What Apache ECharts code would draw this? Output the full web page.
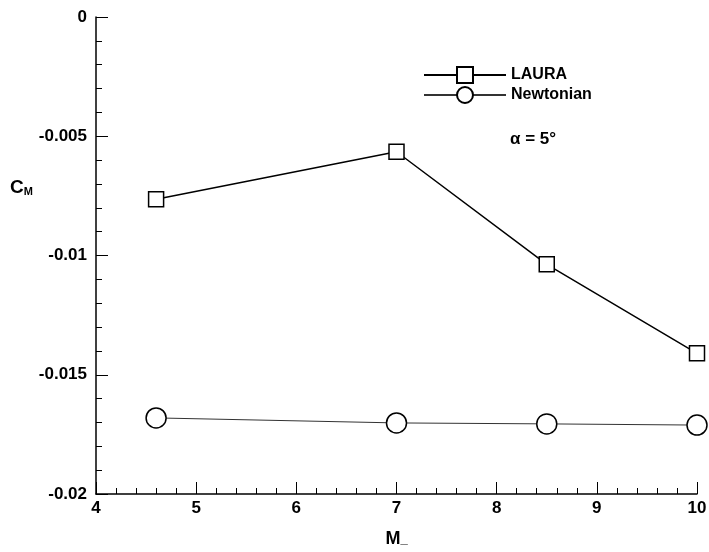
<!DOCTYPE html>
<html>
<head>
    <meta charset="utf-8"/>
    <script src="https://cdn.jsdelivr.net/npm/echarts@6/dist/echarts.min.js"></script>
    <style>
        html, body { margin: 0; padding: 0; background: #fff; }
        #container { width: 709px; height: 552px; }
    </style>
</head>
<body>
<div id="container"></div>
<script type="text/javascript">
    var machNumbers = [4.6, 7, 8.5, 10];
    var lauraCm = [-0.00764, -0.00565, -0.01037, -0.0141];
    var newtonianCm = [-0.01681, -0.01702, -0.01706, -0.01711];
    var seriesNames = ['LAURA', 'Newtonian'];

    function pairs(xs, ys) {
        var out = [];
        for (var i = 0; i < xs.length; i++) {
            out.push([xs[i], ys[i]]);
        }
        return out;
    }

    var font = 'Liberation Sans, Arial, sans-serif';
    var dom = document.getElementById("container");
    var myChart = echarts.init(dom);
    var option = {
        animation: false,
        backgroundColor: '#fff',
        textStyle: { fontFamily: font, color: '#000' },
        grid: { left: 96, right: 12, top: 17, bottom: 58, outerBoundsMode: 'none', containLabel: false },
        legend: {
            orient: 'vertical',
            left: 418,
            top: 61,
            itemWidth: 82,
            itemHeight: 20,
            itemGap: 2,
            textStyle: { fontSize: 16, fontWeight: 'bold', color: '#000', fontFamily: font },
            data: seriesNames
        },
        xAxis: {
            type: 'value',
            min: 4,
            max: 10,
            interval: 1,
            name: 'M{s|_}',
            nameLocation: 'middle',
            nameGap: 36,
            nameTextStyle: {
                fontSize: 18, fontWeight: 'bold', color: '#000',
                rich: { s: { fontSize: 13, fontWeight: 'bold', padding: [0, 0, 0, 0] } }
            },
            axisLine: { show: true, onZero: false, lineStyle: { color: '#000', width: 1.5 } },
            axisTick: { show: true, inside: true, length: 12, lineStyle: { color: '#000' } },
            minorTick: { show: true, splitNumber: 5, length: 6, lineStyle: { color: '#000' } },
            axisLabel: { fontSize: 17, fontWeight: 'bold', color: '#000', margin: 6 },
            splitLine: { show: false }
        },
        yAxis: {
            type: 'value',
            min: -0.02,
            max: 0,
            interval: 0.005,
            axisLine: { show: true, onZero: false, lineStyle: { color: '#000', width: 1.5 } },
            axisTick: { show: true, inside: true, length: 12, lineStyle: { color: '#000' } },
            minorTick: { show: true, splitNumber: 5, length: 6, lineStyle: { color: '#000' } },
            axisLabel: { fontSize: 17, fontWeight: 'bold', color: '#000', margin: 9 },
            splitLine: { show: false }
        },
        graphic: [
            {
                type: 'text',
                left: 10,
                top: 178,
                style: {
                    text: 'C{s|M}',
                    font: 'bold 19px ' + font,
                    fill: '#000',
                    rich: { s: { fontSize: 11, fontWeight: 'bold', fontFamily: font, padding: [9, 0, 0, 0] } }
                }
            },
            {
                type: 'text',
                left: 510,
                top: 131,
                style: {
                    text: 'α = 5°',
                    font: 'bold 17px ' + font,
                    fill: '#000'
                }
            }
        ],
        series: [
            {
                name: seriesNames[0],
                type: 'line',
                data: pairs(machNumbers, lauraCm),
                symbol: 'rect',
                symbolSize: 15,
                lineStyle: { color: '#000', width: 1.5 },
                itemStyle: { color: '#fff', borderColor: '#000', borderWidth: 1.5 },
                z: 3
            },
            {
                name: seriesNames[1],
                type: 'line',
                data: pairs(machNumbers, newtonianCm),
                symbol: 'circle',
                symbolSize: 20,
                lineStyle: { color: '#333', width: 1 },
                itemStyle: { color: '#fff', borderColor: '#000', borderWidth: 1.5 },
                z: 2
            }
        ]
    };

    myChart.setOption(option, true);
</script>
</body>
</html>
